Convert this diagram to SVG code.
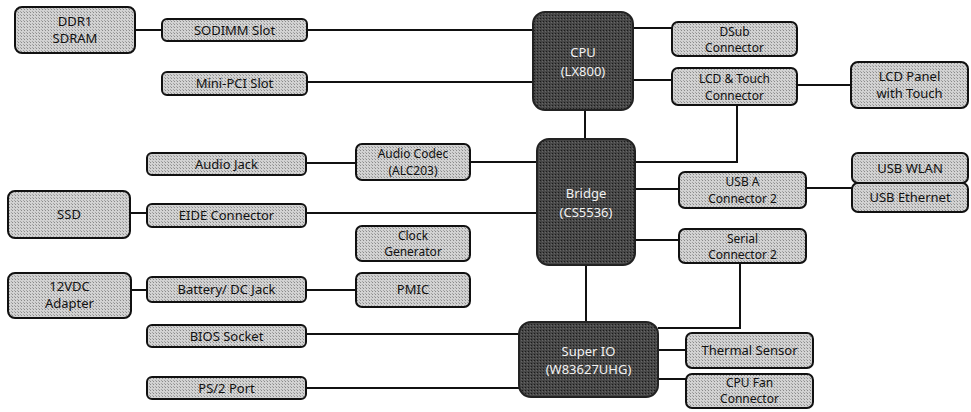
<svg xmlns="http://www.w3.org/2000/svg" width="971" height="412" viewBox="0 0 971 412">
<defs>
<pattern id="dots" width="3" height="3" patternUnits="userSpaceOnUse">
<rect width="3" height="3" fill="#d2d2d2"/>
<rect width="1" height="1" fill="#8a8a8a"/>
<rect x="2" y="2" width="1" height="1" fill="#a4a4a4"/>
</pattern>
<pattern id="dark" width="3" height="3" patternUnits="userSpaceOnUse">
<rect width="3" height="3" fill="#474747"/>
<rect width="1" height="1" fill="#1a1a1a"/>
<rect x="2" y="1" width="1" height="1" fill="#666"/>
</pattern>
</defs>
<style>
.n rect{fill:url(#dots);stroke:#111;stroke-width:2}
.d rect{fill:url(#dark);stroke:#222;stroke-width:2}
text{font-family:"Noto Sans","Open Sans","DejaVu Sans",sans-serif;font-size:13px;text-anchor:middle;fill:#111}
.s text{font-size:12px}
.d text{fill:#f2f2f2}
#connectors path{fill:none;stroke:#111;stroke-width:2}
</style>
<rect width="971" height="412" fill="#fff"/>
<g id="connectors">
<path d="M135 30H162"/>
<path d="M307 30H533"/>
<path d="M307 82H533"/>
<path d="M633 28H672"/>
<path d="M633 80H672"/>
<path d="M797 85H851"/>
<path d="M737 105V162H635"/>
<path d="M585 110V139"/>
<path d="M306 163H356"/>
<path d="M470 162H537"/>
<path d="M130 213H147"/>
<path d="M306 213H537"/>
<path d="M635 189H679"/>
<path d="M806 188H852"/>
<path d="M635 240H679"/>
<path d="M131 290H147"/>
<path d="M306 290H356"/>
<path d="M586 265V322"/>
<path d="M306 334H519"/>
<path d="M306 388H519"/>
<path d="M740 263V328H658"/>
<path d="M658 350H686"/>
<path d="M658 379H686"/>
</g>
<g id="ddr" class="n"><rect x="15" y="7" width="120" height="46" rx="7"/><text x="75" y="26">DDR1</text><text x="75" y="43">SDRAM</text></g>
<g id="sodimm" class="n"><rect x="162" y="19" width="145" height="22" rx="5"/><text x="234.5" y="35">SODIMM Slot</text></g>
<g id="minipci" class="n"><rect x="162" y="72" width="145" height="23" rx="5"/><text x="234.5" y="88">Mini-PCI Slot</text></g>
<g id="cpu" class="d"><rect x="533" y="12" width="100" height="98" rx="12"/><text x="583" y="57">CPU</text><text x="583" y="76">(LX800)</text></g>
<g id="dsub" class="n s"><rect x="672" y="22" width="125" height="34" rx="6"/><text x="734.5" y="36">DSub</text><text x="734.5" y="52">Connector</text></g>
<g id="lcdconn" class="n s"><rect x="672" y="68" width="125" height="37" rx="6"/><text x="734.5" y="83">LCD &amp; Touch</text><text x="734.5" y="100">Connector</text></g>
<g id="lcdpanel" class="n"><rect x="851" y="62" width="117" height="46" rx="7"/><text x="909.5" y="81">LCD Panel</text><text x="909.5" y="98">with Touch</text></g>
<g id="audiojack" class="n"><rect x="147" y="153" width="159" height="22" rx="5"/><text x="226.5" y="169">Audio Jack</text></g>
<g id="codec" class="n s"><rect x="356" y="144" width="114" height="36" rx="6"/><text x="413" y="158">Audio Codec</text><text x="413" y="175">(ALC203)</text></g>
<g id="bridge" class="d"><rect x="537" y="139" width="98" height="126" rx="12"/><text x="586" y="198">Bridge</text><text x="586" y="217">(CS5536)</text></g>
<g id="ssd" class="n"><rect x="8" y="191" width="122" height="47" rx="7"/><text x="69" y="219">SSD</text></g>
<g id="eide" class="n"><rect x="147" y="204" width="159" height="23" rx="5"/><text x="226.5" y="220">EIDE Connector</text></g>
<g id="clock" class="n s"><rect x="356" y="226" width="114" height="35" rx="6"/><text x="413" y="240">Clock</text><text x="413" y="256">Generator</text></g>
<g id="usba" class="n s"><rect x="679" y="172" width="127" height="36" rx="6"/><text x="742.5" y="186">USB A</text><text x="742.5" y="203">Connector 2</text></g>
<g id="usbwlan" class="n"><rect x="852" y="153" width="116" height="30" rx="6"/><text x="910" y="173">USB WLAN</text></g>
<g id="usbeth" class="n"><rect x="852" y="183" width="116" height="29" rx="6"/><text x="910" y="202">USB Ethernet</text></g>
<g id="serial" class="n s"><rect x="679" y="229" width="127" height="34" rx="6"/><text x="742.5" y="243">Serial</text><text x="742.5" y="259">Connector 2</text></g>
<g id="adapter" class="n"><rect x="8" y="273" width="123" height="45" rx="7"/><text x="69.5" y="291">12VDC</text><text x="69.5" y="308">Adapter</text></g>
<g id="battery" class="n"><rect x="147" y="277" width="159" height="25" rx="5"/><text x="226.5" y="294">Battery/ DC Jack</text></g>
<g id="pmic" class="n"><rect x="356" y="273" width="114" height="34" rx="6"/><text x="413" y="294">PMIC</text></g>
<g id="bios" class="n"><rect x="147" y="325" width="159" height="22" rx="5"/><text x="226.5" y="341">BIOS Socket</text></g>
<g id="ps2" class="n"><rect x="147" y="377" width="159" height="22" rx="5"/><text x="226.5" y="393">PS/2 Port</text></g>
<g id="superio" class="d"><rect x="519" y="322" width="139" height="75" rx="12"/><text x="588.5" y="356">Super IO</text><text x="588.5" y="374">(W83627UHG)</text></g>
<g id="thermal" class="n"><rect x="686" y="333" width="127" height="35" rx="6"/><text x="749.5" y="355">Thermal Sensor</text></g>
<g id="fan" class="n s"><rect x="686" y="374" width="127" height="34" rx="6"/><text x="749.5" y="387">CPU Fan</text><text x="749.5" y="403">Connector</text></g>
</svg>
